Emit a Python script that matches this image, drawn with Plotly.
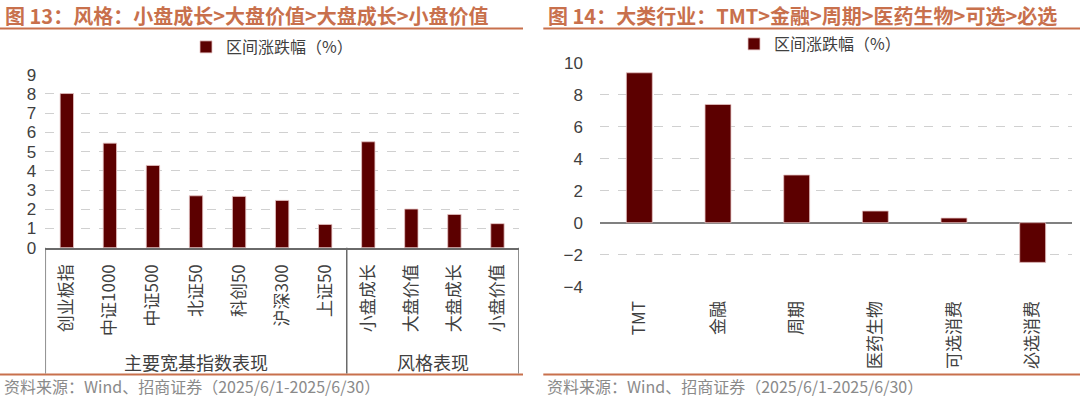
import plotly.graph_objects as go

# ---------------- data ----------------
left_categories = ["创业板指", "中证1000", "中证500", "北证50", "科创50", "沪深300", "上证50",
                   "小盘成长", "大盘价值", "大盘成长", "小盘价值"]
left_values = [8.02, 5.44, 4.28, 2.70, 2.67, 2.46, 1.21, 5.51, 2.01, 1.73, 1.25]
left_groups = ["主要宽基指数表现", "风格表现"]
left_group_sizes = [7, 4]
left_ticks = list(range(0, 10))

right_categories = ["TMT", "金融", "周期", "医药生物", "可选消费", "必选消费"]
right_values = [9.37, 7.39, 2.98, 0.73, 0.29, -2.48]
right_ticks = [-4, -2, 0, 2, 4, 6, 8, 10]

series_name = "区间涨跌幅（%）"
left_title = "图 13：风格：小盘成长>大盘价值>大盘成长>小盘价值"
right_title = "图 14：大类行业：TMT>金融>周期>医药生物>可选>必选"
source_note = "资料来源：Wind、招商证券（2025/6/1-2025/6/30）"

# ---------------- styling ----------------
W, H = 1080, 399
BAR = "#5c0000"
ORANGE = "#c8704c"
TXT = "#404040"
GRID = "#d0d0d0"
CJK = "Noto Sans CJK SC, Liberation Sans, sans-serif"
NUM = "Liberation Sans, Arial, sans-serif"


def px(x):
    return x / W


def py(y):
    return (H - y) / H


fig = go.Figure()

fig.add_trace(go.Bar(
    x=left_categories, y=left_values, name=series_name, width=0.31,
    marker=dict(color=BAR, line=dict(color="#e6c4c4", width=0.8)),
    xaxis="x", yaxis="y", legend="legend", showlegend=True,
))
fig.add_trace(go.Bar(
    x=right_categories, y=right_values, name=series_name, width=0.33,
    marker=dict(color=BAR, line=dict(color="#e6c4c4", width=0.8)),
    xaxis="x2", yaxis="y2", legend="legend2", showlegend=True,
))

fig.update_layout(
    template="none",
    width=W, height=H,
    margin=dict(l=0, r=0, t=0, b=0, autoexpand=False),
    paper_bgcolor="white", plot_bgcolor="white",
    font=dict(family=CJK, color=TXT),
    xaxis=dict(
        domain=[px(45.3), px(519)], type="category", range=[-0.5, len(left_categories) - 0.5],
        showline=True, linecolor="#6a6a6a", linewidth=1.5, ticks="", showgrid=False, zeroline=False,
        tickangle=-90, tickfont=dict(family=CJK, size=17, color=TXT),
        ticklabelstandoff=8, anchor="y", automargin=False,
    ),
    yaxis=dict(
        domain=[py(247.7), py(74.7)], range=[0, 9], tickvals=left_ticks,
        showgrid=True, gridcolor=GRID, griddash="dash", gridwidth=1,
        zeroline=False, showline=False, ticks="",
        tickfont=dict(family=NUM, size=17, color=TXT), ticklabelstandoff=8, anchor="x",
        automargin=False,
    ),
    xaxis2=dict(
        domain=[px(600), px(1072)], type="category", range=[-0.5, len(right_categories) - 0.5],
        showline=False, ticks="", showgrid=False, zeroline=False,
        tickangle=-90, tickfont=dict(family=CJK, size=17, color=TXT),
        ticklabelstandoff=10, anchor="y2", automargin=False,
    ),
    yaxis2=dict(
        domain=[py(286.7), py(62.7)], range=[-4, 10], tickvals=right_ticks,
        showgrid=True, gridcolor=GRID, griddash="dash", gridwidth=1,
        zeroline=True, zerolinecolor="#808080", zerolinewidth=1.5,
        showline=False, ticks="",
        tickfont=dict(family=NUM, size=17, color=TXT), ticklabelstandoff=16, anchor="x2",
        automargin=False,
    ),
    legend=dict(
        x=px(272), y=py(47), xanchor="center", yanchor="middle", orientation="h",
        font=dict(family=CJK, size=16, color=TXT), bgcolor="rgba(0,0,0,0)",
        itemwidth=30,
    ),
    legend2=dict(
        x=px(820), y=py(44), xanchor="center", yanchor="middle", orientation="h",
        font=dict(family=CJK, size=16, color=TXT), bgcolor="rgba(0,0,0,0)",
        itemwidth=30,
    ),
)

shapes = []
# title underlines and footer lines
for (x0, x1) in [(0, 523), (543.3, 1080)]:
    shapes.append(dict(type="line", xref="paper", yref="paper", x0=px(x0), x1=px(x1),
                       y0=py(28.5), y1=py(28.5), line=dict(color=ORANGE, width=2)))
    shapes.append(dict(type="line", xref="paper", yref="paper", x0=px(x0), x1=px(x1),
                       y0=py(374.5), y1=py(374.5), line=dict(color=ORANGE, width=2)))

# group box (left chart) — vertical separators at category boundaries
bounds = [-0.5]
for s in left_group_sizes:
    bounds.append(bounds[-1] + s)
for b in bounds:
    shapes.append(dict(type="line", xref="x", yref="paper", x0=b, x1=b,
                       y0=py(373.5), y1=py(247.7), line=dict(color="#6a6a6a", width=1.5)))
fig.update_layout(shapes=shapes)

annotations = [
    dict(text=left_title, xref="paper", yref="paper", x=px(3), y=py(15), xanchor="left",
         yanchor="middle", showarrow=False, font=dict(family=CJK, size=20, color=ORANGE, weight="bold")),
    dict(text=right_title, xref="paper", yref="paper", x=px(546), y=py(15), xanchor="left",
         yanchor="middle", showarrow=False, font=dict(family=CJK, size=20, color=ORANGE, weight="bold")),
    dict(text=source_note, xref="paper", yref="paper", x=px(2), y=py(386), xanchor="left",
         yanchor="middle", showarrow=False, font=dict(family=CJK, size=16, color="#8a8a8a")),
    dict(text=source_note, xref="paper", yref="paper", x=px(545), y=py(386), xanchor="left",
         yanchor="middle", showarrow=False, font=dict(family=CJK, size=16, color="#8a8a8a")),
]
for g, b0, b1 in zip(left_groups, bounds[:-1], bounds[1:]):
    annotations.append(dict(text=g, xref="x", yref="paper", x=(b0 + b1) / 2, y=py(361.5),
                            xanchor="center", yanchor="middle", showarrow=False,
                            font=dict(family=CJK, size=18, color=TXT)))
fig.update_layout(annotations=annotations)

fig.write_html(
    "out.html",
    config={"displayModeBar": False},
    post_script="document.body.style.margin='0';document.body.style.padding='0';"
                "document.body.style.overflow='hidden';",
)
